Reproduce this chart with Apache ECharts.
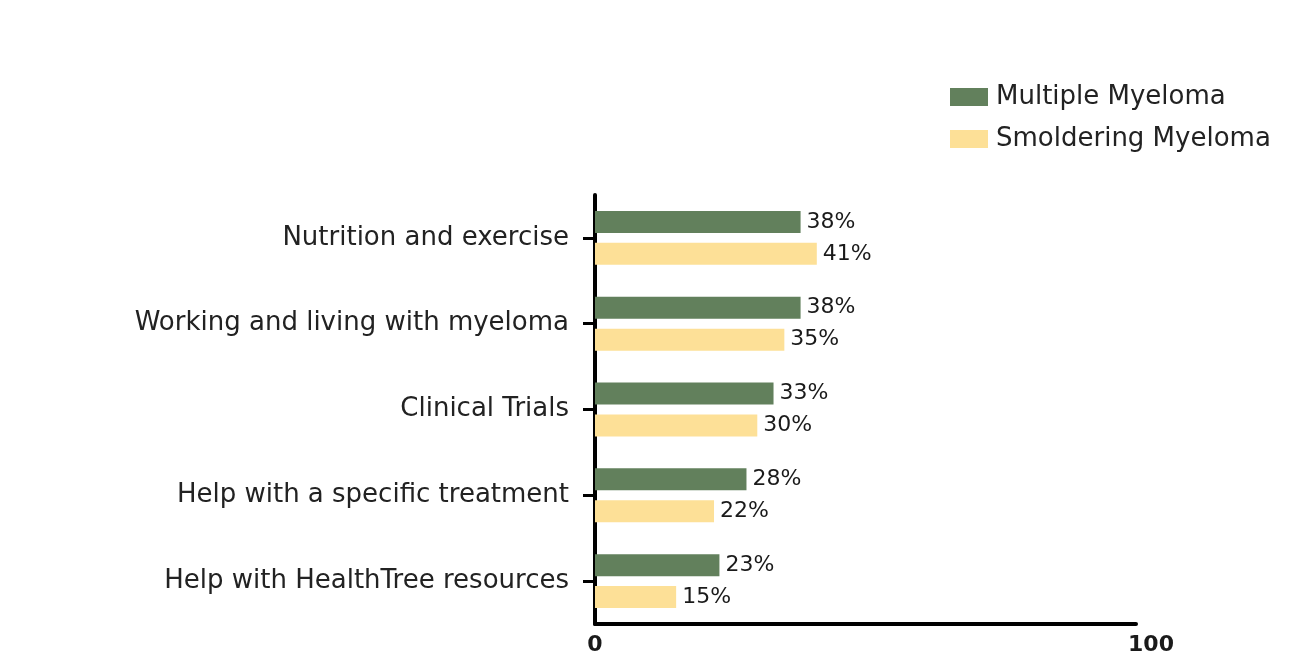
<!DOCTYPE html>
<html>
<head>
<meta charset="utf-8">
<script src="https://cdn.jsdelivr.net/npm/echarts@6/dist/echarts.min.js"></script>
<style>
html,body{margin:0;padding:0;background:#fff;}
#chart{width:1300px;height:660px;}
</style>
</head>
<body>
<div id="chart"></div>
<script>
const categories = ["Nutrition and exercise", "Working and living with myeloma", "Clinical Trials", "Help with a specific treatment", "Help with HealthTree resources"];
const multipleMyeloma = [38, 38, 33, 28, 23];
const smolderingMyeloma = [41, 35, 30, 22, 15];
const seriesNames = ["Multiple Myeloma", "Smoldering Myeloma"];
const xTicks = [0, 100];

const FONT = "DejaVu Sans";
const chart = echarts.init(document.getElementById('chart'));
const labelOpt = {
  show: true,
  position: 'right',
  distance: 6,
  formatter: '{c}%',
  color: '#1a1a1a',
  fontFamily: FONT,
  fontSize: 22
};
chart.setOption({
  backgroundColor: '#ffffff',
  animation: false,
  legend: {
    orient: 'vertical',
    left: 950,
    top: 84,
    padding: 0,
    itemWidth: 38,
    itemHeight: 18,
    itemGap: 16,
    icon: 'rect',
    textStyle: { fontFamily: FONT, fontSize: 26, color: '#222', padding: [0, 0, 0, 3] },
    data: seriesNames
  },
  grid: { left: 595, right: 164, top: 195, height: 429, containLabel: false },
  xAxis: {
    type: 'value',
    min: xTicks[0],
    max: xTicks[1],
    interval: xTicks[1] - xTicks[0],
    splitLine: { show: false },
    axisTick: { show: false },
    axisLine: { show: true, lineStyle: { color: '#000', width: 4 } },
    axisLabel: {
      margin: 10,
      formatter: function (v) { return v === xTicks[1] ? '{r|' + v + '}' : '{c|' + v + '}'; },
      rich: {
        c: { fontFamily: FONT, fontSize: 22, fontWeight: 'bold', color: '#1a1a1a' },
        r: { fontFamily: FONT, fontSize: 22, fontWeight: 'bold', color: '#1a1a1a', padding: [0, 0, 0, 30] }
      }
    }
  },
  yAxis: {
    type: 'category',
    inverse: true,
    data: categories,
    axisLine: { show: true, lineStyle: { color: '#000', width: 4 } },
    axisTick: { show: true, alignWithLabel: true, length: 12, lineStyle: { color: '#000', width: 3 } },
    axisLabel: { margin: 26, fontFamily: FONT, fontSize: 26, color: '#222' }
  },
  series: [
    {
      name: seriesNames[0],
      type: 'bar',
      data: multipleMyeloma,
      barWidth: 22,
      barGap: '45%',
      itemStyle: { color: '#62805c' },
      label: labelOpt
    },
    {
      name: seriesNames[1],
      type: 'bar',
      data: smolderingMyeloma,
      barWidth: 22,
      barGap: '45%',
      itemStyle: { color: '#fde097' },
      label: labelOpt
    }
  ]
});
</script>
</body>
</html>
